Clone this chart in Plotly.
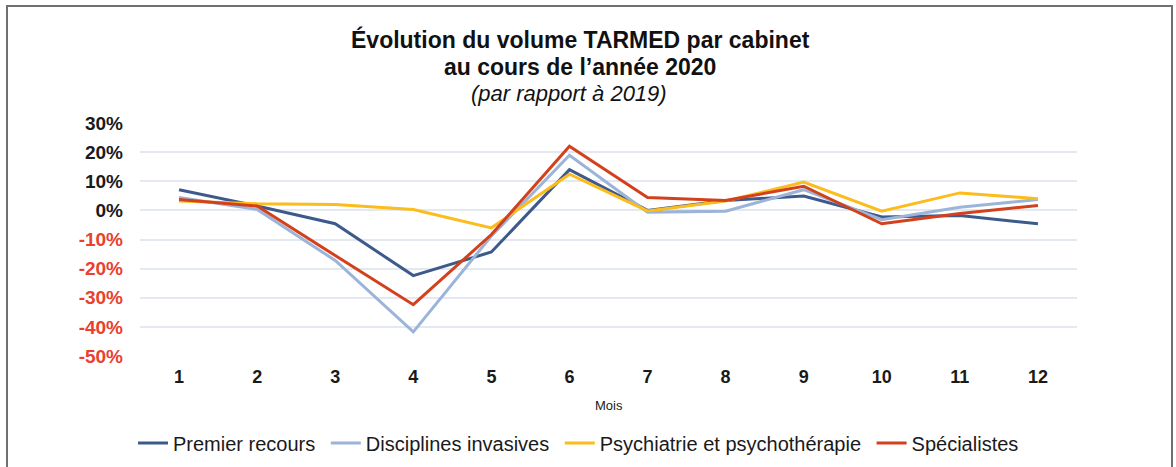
import plotly.graph_objects as go

months = [str(m) for m in range(1, 13)]
premier_recours = [7.1, 1.5, -4.6, -22.4, -14.3, 14.0, 0.0, 3.4, 4.9, -2.3, -1.8, -4.6]
disciplines_invasives = [4.4, 0.3, -17.2, -41.7, -8.8, 18.9, -0.6, -0.3, 7.1, -3.2, 1.1, 3.7]
psychiatrie = [3.2, 2.3, 2.0, 0.3, -6.0, 12.4, -0.2, 3.2, 9.7, -0.3, 6.0, 4.0]
specialistes = [3.7, 1.5, -15.5, -32.4, -8.3, 22.0, 4.4, 3.4, 8.3, -4.6, -1.1, 1.7]

series_names = ["Premier recours", "Disciplines invasives",
                "Psychiatrie et psychothérapie", "Spécialistes"]
series_values = [premier_recours, disciplines_invasives, psychiatrie, specialistes]
series_colors = ["#3d5a8c", "#9cb4d8", "#fbbc1c", "#d3401c"]

y_ticks = [30, 20, 10, 0, -10, -20, -30, -40, -50]

FONT = "Liberation Sans, Arial, sans-serif"

fig = go.Figure()
for name, vals, col in zip(series_names, series_values, series_colors):
    fig.add_trace(go.Scatter(
        x=months, y=vals, mode="lines", name=name + "\u00a0",
        line=dict(color=col, width=3),
    ))

tick_text = []
for v in y_ticks:
    color = "#1a1a1a" if v >= 0 else "#e8412c"
    tick_text.append(f'<span style="color:{color}">{v}%</span>')

W, H = 1176, 467
L, T = 140, 123
R = W - 1077
B = H - 356
pw = W - L - R
ph = H - T - B

def px_x(x):
    return (x - L) / pw

def px_y(y):
    return (H - B - y) / ph

fig.update_layout(
    width=W, height=H,
    margin=dict(l=L, r=R, t=T, b=B, pad=0, autoexpand=False),
    paper_bgcolor="white", plot_bgcolor="white",
    font=dict(family=FONT, color="#1a1a1a"),
    showlegend=True,
    legend=dict(
        orientation="h", x=px_x(581), xanchor="center",
        y=px_y(443), yanchor="middle",
        font=dict(size=20, family=FONT, color="#1a1a1a"),
        bgcolor="rgba(0,0,0,0)",
    ),
    xaxis=dict(
        type="category", range=[-0.5, 11.5], showgrid=False, zeroline=False, showline=False,
        ticks="", tickfont=dict(size=18, family=FONT, color="#1a1a1a", weight="bold"),
        ticklabelstandoff=8,
    ),
    yaxis=dict(
        range=[-50, 30], tickvals=y_ticks, ticktext=tick_text,
        showgrid=True, gridcolor="#e4e8f0", gridwidth=2,
        zeroline=False, showline=False, ticks="",
        tickfont=dict(size=19, family=FONT, weight="bold"),
        ticklabelstandoff=16,
    ),
    annotations=[
        dict(text="<b>Évolution du volume TARMED par cabinet</b>", x=px_x(580), y=px_y(39),
             xref="paper", yref="paper", showarrow=False, xanchor="center", yanchor="middle",
             font=dict(size=23, family=FONT, color="#111111")),
        dict(text="<b>au cours de l’année 2020</b>", x=px_x(580), y=px_y(67),
             xref="paper", yref="paper", showarrow=False, xanchor="center", yanchor="middle",
             font=dict(size=23, family=FONT, color="#111111")),
        dict(text="<i>(par rapport à 2019)</i>", x=px_x(569), y=px_y(94),
             xref="paper", yref="paper", showarrow=False, xanchor="center", yanchor="middle",
             font=dict(size=22, family=FONT, color="#111111")),
        dict(text="Mois", x=0.5, y=px_y(405),
             xref="paper", yref="paper", showarrow=False, xanchor="center", yanchor="middle",
             font=dict(size=13, family=FONT, color="#1a1a1a")),
    ],
    shapes=[
        dict(type="rect", xref="paper", yref="paper",
             x0=px_x(7), x1=px_x(1172), y0=px_y(500), y1=px_y(6),
             line=dict(color="#707070", width=2), fillcolor="rgba(0,0,0,0)", layer="below"),
    ],
)

fig.write_html(
    "out.html",
    config={"displayModeBar": False},
    post_script="document.body.style.margin='0';document.body.style.overflow='hidden';",
)
